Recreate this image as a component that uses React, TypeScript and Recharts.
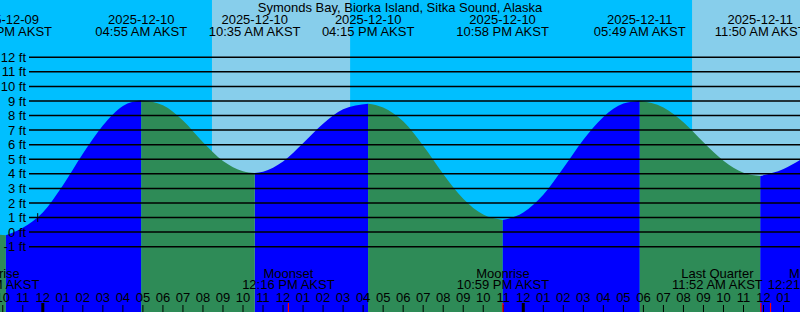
import React from 'react';
import { ComposedChart, Area, XAxis, YAxis, ReferenceLine, ReferenceArea } from 'recharts';

const FONT = '"Liberation Sans", Arial, sans-serif';

const TITLE = 'Symonds Bay, Biorka Island, Sitka Sound, Alaska';

// hours since 2025-12-10 00:00 AKST
const sampleHours = [
  -2.14, -1.85, -1, 0, 1, 2, 3, 4, 4.917, 6, 7, 8, 9, 10, 10.583, 11, 12, 13, 14, 15, 16.25, 17, 18, 19, 20, 21, 22,
  22.967, 24, 25, 26, 27, 28, 29, 29.817, 31, 32, 33, 34, 35, 35.833, 37, 37.83,
];
// water level in feet read at each hour above
const sampleFeet = [
  -0.19, -0.22, 0.3, 1.35, 3.2, 5.37, 7.31, 8.66, 9.05, 8.7, 7.66, 6.17, 4.88, 4.18, 4.06, 4.15, 4.85, 6.1, 7.44, 8.43,
  8.81, 8.55, 7.6, 5.93, 3.99, 2.29, 1.2, 0.83, 1.35, 2.57, 4.4, 6.34, 7.9, 8.82, 9.02, 8.56, 7.54, 6.17, 4.9, 4.07,
  3.85, 4.33, 4.95,
];

const extremeHours = [-1.85, 4.917, 10.583, 16.25, 22.967, 29.817, 35.833];
const extremeKinds = ['L', 'H', 'L', 'H', 'L', 'H', 'L'];
const extremeDates = ['2025-12-09', '2025-12-10', '2025-12-10', '2025-12-10', '2025-12-10', '2025-12-11', '2025-12-11'];
const extremeTimes = [
  '10:09 PM AKST',
  '04:55 AM AKST',
  '10:35 AM AKST',
  '04:15 PM AKST',
  '10:58 PM AKST',
  '05:49 AM AKST',
  '11:50 AM AKST',
];

const moonHours = [-2.483, 12.267, 22.983, 35.867, 36.35];
const moonNames = ['Moonrise', 'Moonset', 'Moonrise', 'Last Quarter', 'Moonset'];
const moonTimes = ['09:31 PM AKST', '12:16 PM AKST', '10:59 PM AKST', '11:52 AM AKST', '12:21 PM AKST'];
// labels pushed apart so they don't collide (px)
const moonLabelShift = [0, 0, 0, -43.5, 43.5];

const sunriseHours = [8.45, 32.43];
const sunsetHours = [15.35, 39.33];

const levels = [-1, 0, 1, 2, 3, 4, 5, 6, 7, 8, 9, 10, 11, 12];
const hourTicks = Array.from({ length: 40 }, (_, i) => i - 2);

const markHour = -0.255;
const markLevel = 1;

const X_MIN = -2.138;
const X_MAX = 37.822;
const Y_MIN = -5.484;
const Y_MAX = 15.93;
const LINE_START = -0.689;

const rows = sampleHours.map((t, i) => {
  const v = sampleFeet[i];
  const isExtreme = extremeHours.some((e) => Math.abs(e - t) < 1e-6);
  const nextIdx = extremeHours.findIndex((e) => e > t + 1e-6);
  const rising =
    nextIdx === -1 ? extremeKinds[extremeKinds.length - 1] === 'L' : extremeKinds[nextIdx] === 'H';
  return {
    t,
    rise: rising || isExtreme ? v : null,
    fall: !rising || isExtreme ? v : null,
  };
});

const txt = { fontFamily: FONT, fontSize: 13, fill: '#000' };

const hourLabel = (h: number) => (props: any) => {
  const x = props.viewBox?.x ?? 0;
  const hr = ((h % 24) + 24) % 24;
  const h12 = hr % 12 === 0 ? 12 : hr % 12;
  const midnight = hr === 0;
  return (
    <g>
      <line x1={x} x2={x} y1={midnight ? 303 : 305} y2={312} stroke="#000" strokeWidth={midnight ? 3 : 1} />
      <text x={x} y={301.5} textAnchor="middle" {...txt}>
        {String(h12).padStart(2, '0')}
      </text>
    </g>
  );
};

const extremeLabel = (i: number) => (props: any) => {
  const x = props.viewBox?.x ?? 0;
  return (
    <g>
      <text x={x} y={24} textAnchor="middle" {...txt}>
        {extremeDates[i]}
      </text>
      <text x={x} y={36} textAnchor="middle" {...txt}>
        {extremeTimes[i]}
      </text>
    </g>
  );
};

const moonLabel = (i: number) => (props: any) => {
  const x = props.viewBox?.x ?? 0;
  const cx = x + moonLabelShift[i];
  return (
    <g>
      <line x1={x} x2={x} y1={303} y2={312} stroke="#FF0000" strokeWidth={1.2} />
      <text x={cx} y={277.5} textAnchor="middle" {...txt}>
        {moonNames[i]}
      </text>
      <text x={cx} y={289} textAnchor="middle" {...txt}>
        {moonTimes[i]}
      </text>
    </g>
  );
};

const titleLabel = (props: any) => {
  const x = props.viewBox?.x ?? 0;
  return (
    <text x={x} y={11.5} textAnchor="middle" {...txt}>
      {TITLE}
    </text>
  );
};

export default function App() {
  return (
    <div style={{ position: 'absolute', left: 0, top: 0, width: 800, height: 312, background: '#00BFFF' }}>
      <ComposedChart width={800} height={312} data={rows} margin={{ top: 0, right: 0, bottom: 0, left: 0 }}>
        <XAxis type="number" dataKey="t" domain={[X_MIN, X_MAX]} allowDataOverflow hide height={0} />
        <YAxis type="number" domain={[Y_MIN, Y_MAX]} allowDataOverflow hide width={0} />
        {sunriseHours.map((s, i) => (
          <ReferenceArea
            key={'day' + i}
            x1={s}
            x2={Math.min(sunsetHours[i], X_MAX)}
            y1={Y_MIN}
            y2={Y_MAX}
            fill="#87CEEB"
            fillOpacity={1}
            stroke="none"
            ifOverflow="hidden"
          />
        ))}
        <Area
          type="monotone"
          dataKey="rise"
          fill="#0000FF"
          fillOpacity={1}
          stroke="none"
          baseValue="dataMin"
          dot={false}
          activeDot={false}
          isAnimationActive={false}
        />
        <Area
          type="monotone"
          dataKey="fall"
          fill="#2E8B57"
          fillOpacity={1}
          stroke="none"
          baseValue="dataMin"
          dot={false}
          activeDot={false}
          isAnimationActive={false}
        />
        {levels.map((v) => (
          <ReferenceLine
            key={'lv' + v}
            segment={[
              { x: LINE_START, y: v },
              { x: X_MAX, y: v },
            ]}
            stroke="#000"
            strokeWidth={1.5}
            ifOverflow="visible"
            label={{ value: `${v} ft`, position: 'left', offset: 3, fill: '#000', fontSize: 13, fontFamily: FONT }}
          />
        ))}
        <ReferenceLine
          segment={[
            { x: markHour, y: markLevel - 0.3 },
            { x: markHour, y: markLevel + 0.3 },
          ]}
          stroke="#000"
          strokeWidth={1}
        />
        {hourTicks.map((h) => (
          <ReferenceLine key={'hr' + h} x={h} stroke="none" ifOverflow="visible" label={hourLabel(h)} />
        ))}
        {extremeHours.map((t, i) => (
          <ReferenceLine key={'ex' + i} x={t} stroke="none" ifOverflow="visible" label={extremeLabel(i)} />
        ))}
        {moonHours.map((t, i) => (
          <ReferenceLine key={'mo' + i} x={t} stroke="none" ifOverflow="visible" label={moonLabel(i)} />
        ))}
        <ReferenceLine x={(X_MIN + X_MAX) / 2} stroke="none" ifOverflow="visible" label={titleLabel} />
      </ComposedChart>
    </div>
  );
}
